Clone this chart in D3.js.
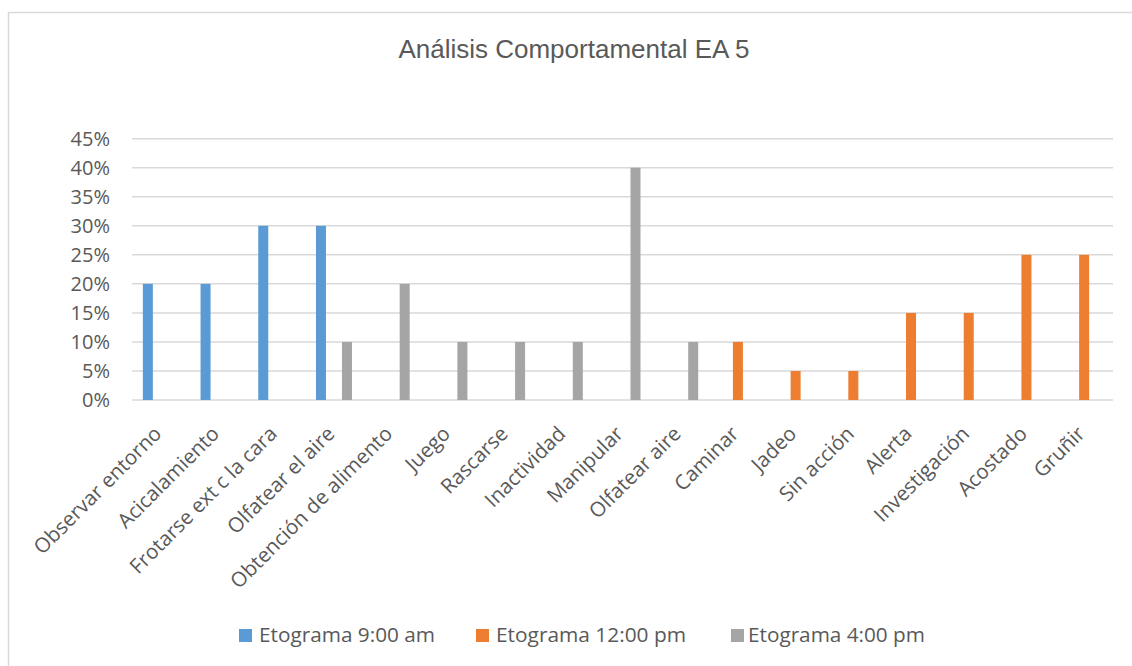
<!DOCTYPE html>
<html><head><meta charset="utf-8">
<script src="https://cdn.jsdelivr.net/npm/d3@7"></script>
<style>body{margin:0;background:#fff}</style>
</head><body>
<svg id="c" width="1132" height="666"></svg>
<script>
const categories = ["Observar entorno","Acicalamiento","Frotarse ext c la cara","Olfatear el aire","Obtención de alimento","Juego","Rascarse","Inactividad","Manipular","Olfatear aire","Caminar","Jadeo","Sin acción","Alerta","Investigación","Acostado","Gruñir"];
const seriesNames = ["Etograma 9:00 am","Etograma 12:00 pm","Etograma 4:00 pm"];
const colors = ["#5b9bd5","#ed7d31","#a5a5a5"];
const am9  = [0.20,0.20,0.30,0.30,null,null,null,null,null,null,null,null,null,null,null,null,null];
const pm12 = [null,null,null,null,null,null,null,null,null,null,0.10,0.05,0.05,0.15,0.15,0.25,0.25];
const pm4  = [null,null,null,0.10,0.20,0.10,0.10,0.10,0.40,0.10,null,null,null,null,null,null,null];
const yTicks = [0,0.05,0.10,0.15,0.20,0.25,0.30,0.35,0.40,0.45];
const title = "Análisis Comportamental EA 5";

const svg = d3.select("#c");
svg.append("rect").attr("x",8.5).attr("y",12.5).attr("width",1200).attr("height",700)
  .attr("fill","#fff").attr("stroke","#d9d9d9").attr("stroke-width",1.5);

const L=132, R=1113, T=138.7, B=400;
const x = d3.scaleBand().domain(categories).range([L,R]).padding(0);
const y = d3.scaleLinear().domain([0,0.45]).range([B,T]);
const x1 = d3.scaleBand().domain(seriesNames).range([-19.5,19.5]).padding(0);
const bw = 10;

// gridlines
svg.append("g").selectAll("line").data(yTicks).join("line")
  .attr("x1",L).attr("x2",R).attr("y1",d=>y(d)).attr("y2",d=>y(d))
  .attr("stroke","#d9d9d9").attr("stroke-width",1.5);

// y labels
const yAxis = d3.axisLeft(y).tickValues(yTicks).tickFormat(d3.format(".0%")).tickSize(0).tickPadding(0);
const ya = svg.append("g").attr("transform",`translate(110,0)`).call(yAxis);
ya.select(".domain").remove();
ya.selectAll("text").attr("font-family","Open Sans, sans-serif").attr("font-size",20).attr("fill","#595959");

// bars
const all = [am9,pm12,pm4];
all.forEach((vals,si)=>{
  svg.append("g").selectAll("rect")
    .data(vals.map((v,i)=>({v,c:categories[i]})).filter(d=>d.v!=null))
    .join("rect")
    .attr("x",d=>x(d.c)+x.bandwidth()/2 + x1(seriesNames[si]) + x1.bandwidth()/2 - bw/2)
    .attr("width",bw)
    .attr("y",d=>y(d.v)).attr("height",d=>B-y(d.v))
    .attr("fill",colors[si]);
});

// x labels
const xa = svg.append("g").attr("transform",`translate(0,${B})`)
  .call(d3.axisBottom(x).tickSize(0).tickPadding(0));
xa.select(".domain").remove();
xa.selectAll("text")
  .attr("font-family","Open Sans, sans-serif").attr("font-size",20.5).attr("fill","#595959")
  .attr("text-anchor","end").attr("dy",0).attr("y",0)
  .attr("transform","translate(2,35) rotate(-45)");

// title
svg.append("text").attr("x",574).attr("y",58).attr("text-anchor","middle")
  .attr("font-family","Liberation Sans, Arial, sans-serif").attr("font-size",26).attr("fill","#595959")
  .text(title);

// legend
const lg = svg.append("g");
const sx = [239,476,731];
const tx = [259,496,748];
const lw = [176,190,177];
seriesNames.forEach((s,i)=>{
  lg.append("rect").attr("x",sx[i]).attr("y",629).attr("width",13).attr("height",13).attr("fill",colors[i]);
  lg.append("text").attr("x",tx[i]).attr("y",642).attr("font-family","Open Sans, sans-serif")
    .attr("font-size",20).attr("fill","#595959")
    .attr("textLength",lw[i]).attr("lengthAdjust","spacingAndGlyphs").text(s);
});
</script>
</body></html>
